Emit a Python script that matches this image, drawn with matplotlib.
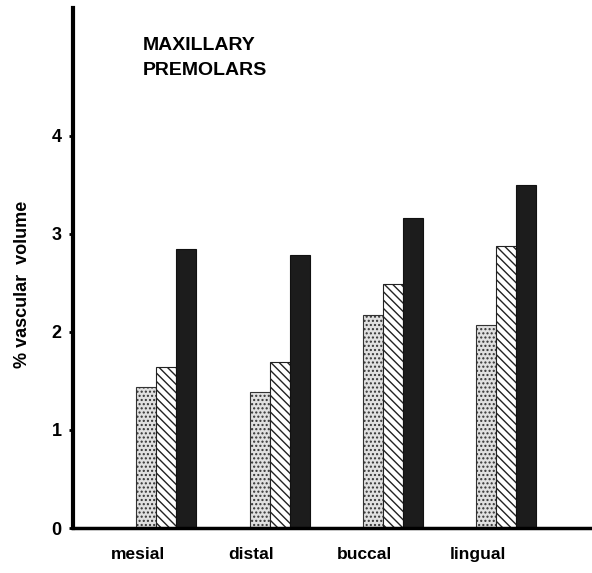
import numpy as np
import matplotlib.pyplot as plt

# Datos
sitios = ["mesial", "distal", "buccal", "lingual"]
serie_punteada = [1.44, 1.39, 2.17, 2.07]
serie_rayada = [1.64, 1.69, 2.49, 2.87]
serie_negra = [2.84, 2.78, 3.16, 3.50]

plt.rcParams['font.family'] = ['Liberation Sans', 'DejaVu Sans']
plt.rcParams['hatch.linewidth'] = 1.0

fig = plt.figure(figsize=(5.92, 5.73), dpi=100)
ax = fig.add_axes([0.123, 0.0785, 0.877, 0.9075])

x = np.arange(len(sitios))
ancho = 0.1765

ax.bar(x - ancho, serie_punteada, ancho, color="#e0e0e0", edgecolor="#333333",
       hatch="....", linewidth=0.8)
ax.bar(x, serie_rayada, ancho, color="white", edgecolor="#222222",
       hatch="\\\\\\\\", linewidth=0.8)
ax.bar(x + ancho, serie_negra, ancho, color="#1c1c1c", edgecolor="#111111",
       linewidth=0.8)

ax.set_xlim(-0.825, 3.755)
ax.set_ylim(0, 5.3)

for lado in ["top", "right"]:
    ax.spines[lado].set_visible(False)
ax.spines["left"].set_linewidth(3)
ax.spines["bottom"].set_linewidth(2.5)

ax.set_yticks([0, 1, 2, 3, 4])
ax.set_yticklabels(["0", "1", "2", "3", "4"], fontsize=13, fontweight="bold")
ax.tick_params(axis="y", length=3, width=2, pad=5)
ax.set_xticks([])

for xi, nombre in zip(x, sitios):
    ax.text(xi - 0.25, -0.19, nombre, ha="center", va="top",
            fontsize=12.5, fontweight="bold")

ax.set_ylabel("% vascular  volume", fontsize=13, fontweight="bold")
ax.yaxis.set_label_coords(-0.081, 0.469)

ax.text(-0.207, 4.79, "MAXILLARY\nPREMOLARS", ha="left", va="center",
        fontsize=14, fontweight="bold", linespacing=1.55)

fig.savefig("out.png", dpi=100)
